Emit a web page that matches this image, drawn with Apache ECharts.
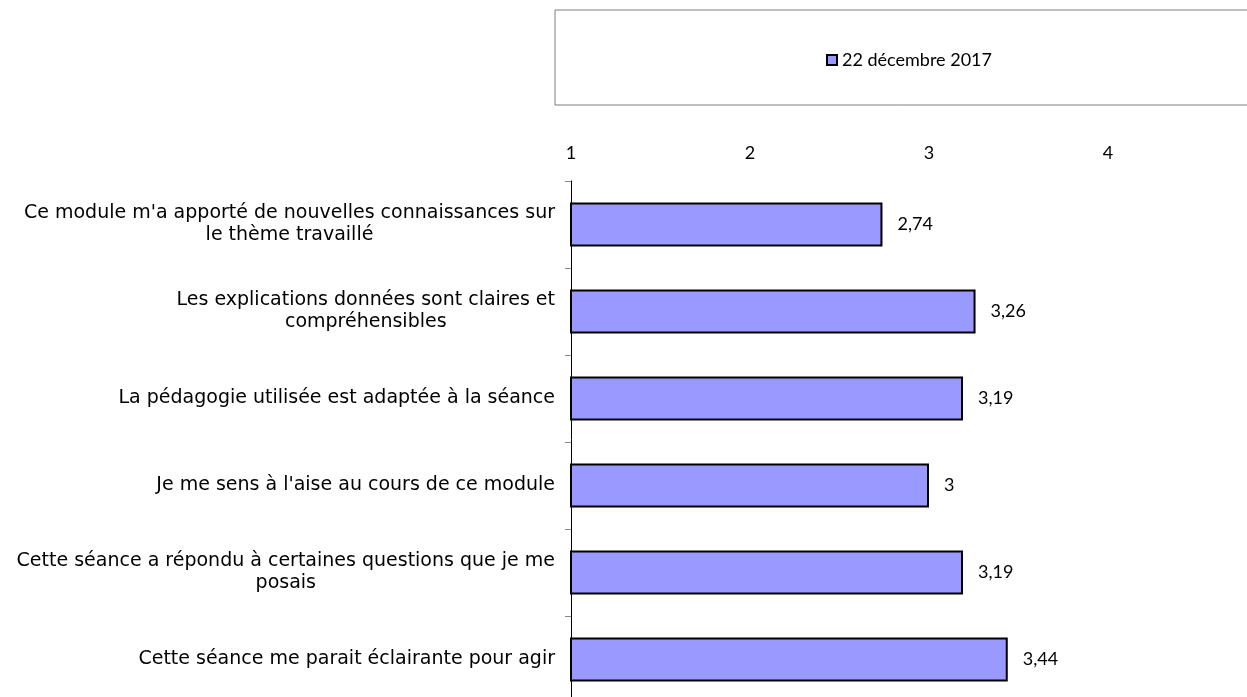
<!DOCTYPE html>
<html>
<head>
<meta charset="utf-8">
<script src="https://cdn.jsdelivr.net/npm/echarts@6/dist/echarts.min.js"></script>
<style>
    html, body { margin: 0; padding: 0; background: #fff; }
    #main { width: 1247px; height: 697px; }
</style>
</head>
<body>
<div id="main"></div>
<script>
// 数据
const categories = [
    "Ce module m'a apporté de nouvelles connaissances sur\nle thème travaillé",
    "Les explications données sont claires et\ncompréhensibles",
    "La pédagogie utilisée est adaptée à la séance",
    "Je me sens à l'aise au cours de ce module",
    "Cette séance a répondu à certaines questions que je me\nposais",
    "Cette séance me parait éclairante pour agir"
];
const values = [2.74, 3.26, 3.19, 3, 3.19, 3.44];
const seriesName = "22 décembre 2017";
const axisMin = 1;
const axisMax = 5;

(function () {
    let myChart = echarts.init(document.getElementById('main'));
    let option = {
        animation: false,
        // 图例：带边框的大框
        legend: {
            data: [seriesName],
            left: 555,
            top: 10,
            padding: [41, 700, 36, 271],
            borderColor: '#7f7f7f',
            borderWidth: 1,
            itemWidth: 10,
            itemHeight: 10,
            icon: 'rect',
            textStyle: {
                fontFamily: 'Lato',
                fontSize: 18,
                color: '#000'
            }
        },
        grid: {
            left: 571,
            top: 181,
            width: 716,
            height: 522,
            containLabel: false,
            outerBoundsMode: 'none' // 不自动收缩网格
        },
        xAxis: {
            type: 'value',
            position: 'top',
            min: axisMin,
            max: axisMax,
            interval: 1,
            axisLine: { show: false },
            axisTick: { show: false },
            splitLine: { show: false },
            axisLabel: {
                margin: 19,
                fontFamily: 'Lato',
                fontSize: 18,
                color: '#000'
            }
        },
        yAxis: {
            type: 'category',
            data: categories,
            inverse: true,
            axisLine: {
                show: true,
                lineStyle: { color: '#000', width: 1 }
            },
            axisTick: {
                show: true,
                length: 6,
                lineStyle: { color: '#888' }
            },
            axisLabel: {
                interval: 0,
                margin: 16,
                // 每行居中，整体右对齐
                formatter: function (v) {
                    return v.split('\n').map(function (l) { return '{c|' + l + '}'; }).join('\n');
                },
                rich: {
                    c: {
                        align: 'center',
                        fontFamily: 'DejaVu Sans',
                        fontSize: 19,
                        lineHeight: 22,
                        color: '#000'
                    }
                }
            }
        },
        series: [
            {
                name: seriesName,
                type: 'bar',
                data: values,
                barWidth: 44,
                itemStyle: {
                    color: '#9999ff',
                    borderColor: '#000',
                    borderWidth: 2
                },
                label: {
                    show: true,
                    position: 'right',
                    distance: 15,
                    fontFamily: 'Lato',
                    fontSize: 18,
                    color: '#000',
                    formatter: function (p) {
                        return String(p.value).replace('.', ',');
                    }
                }
            }
        ]
    };
    myChart.setOption(option);
})();
</script>
</body>
</html>
